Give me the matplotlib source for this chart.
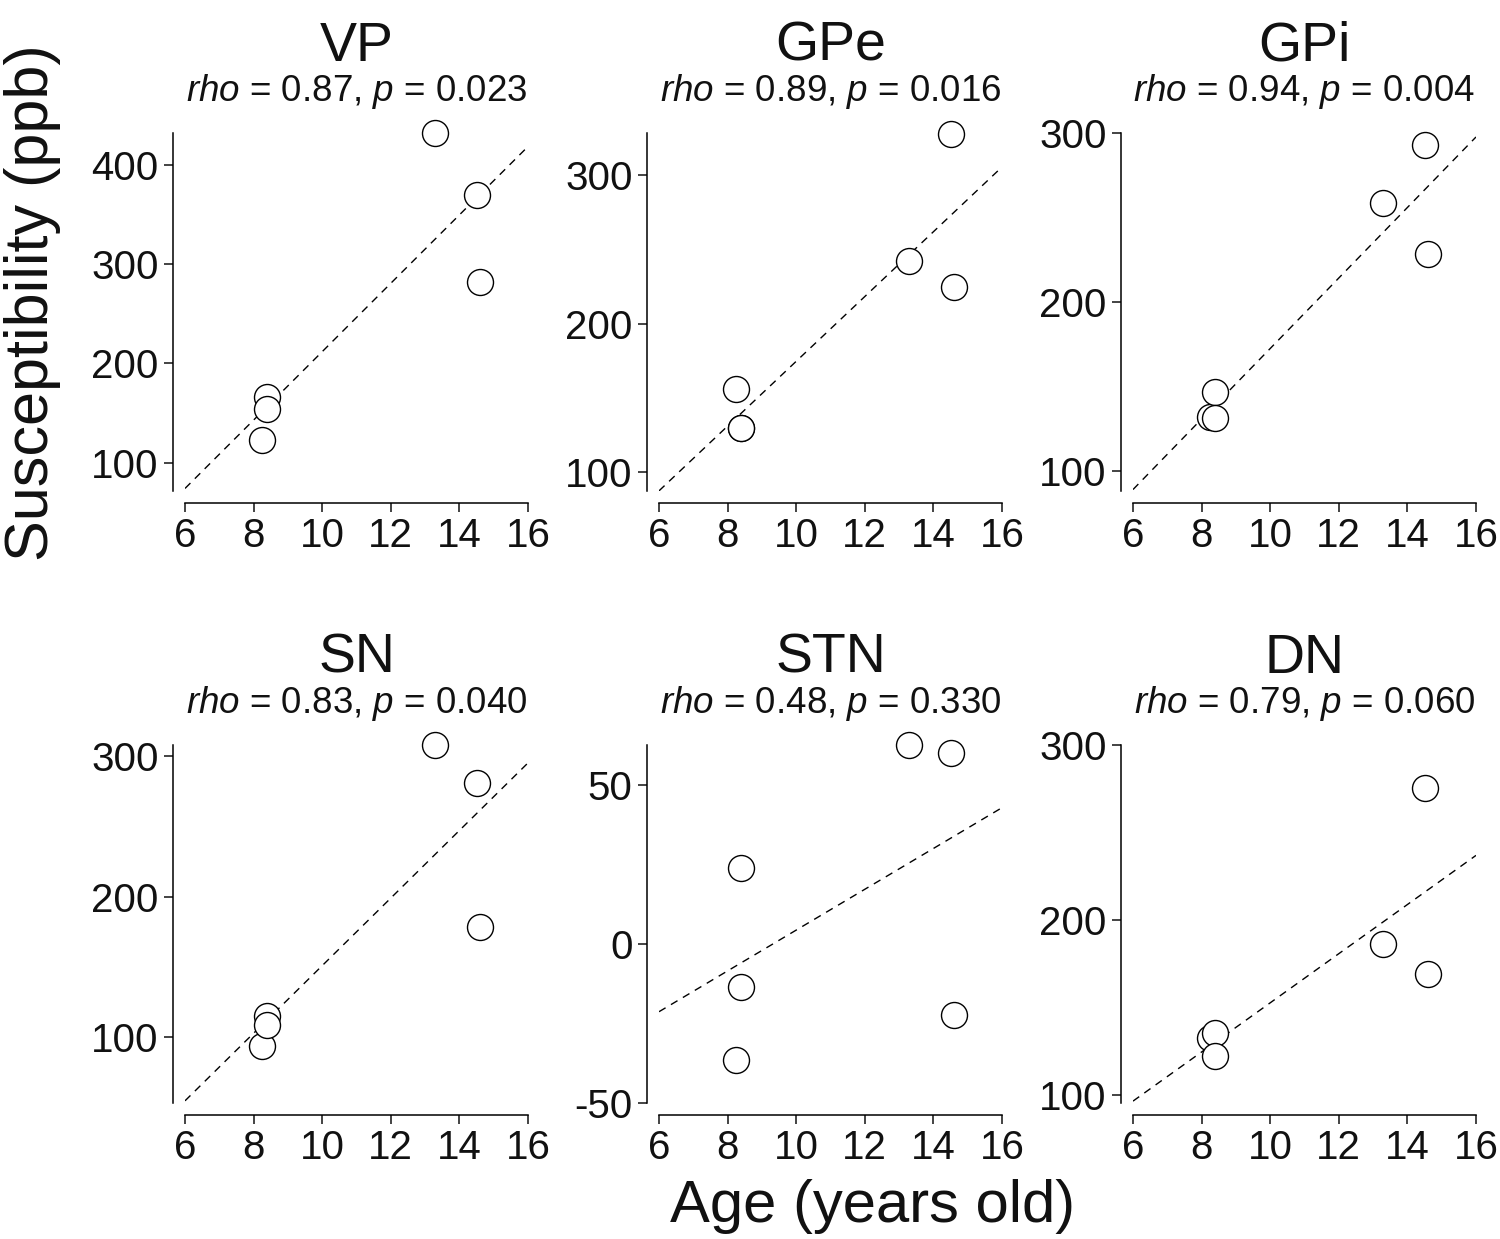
import numpy as np
import matplotlib
matplotlib.use("Agg")
import matplotlib.pyplot as plt
from matplotlib.ticker import MultipleLocator

plt.rcParams['font.family'] = ['Liberation Sans', 'DejaVu Sans']
plt.rcParams['mathtext.fontset'] = 'custom'
plt.rcParams['mathtext.rm'] = 'Liberation Sans'
plt.rcParams['mathtext.it'] = 'Liberation Sans:italic'
plt.rcParams['axes.unicode_minus'] = False

# ages of the six subjects (years)
ages = [8.25, 8.4, 8.4, 13.3, 14.5, 14.6]

regions = ["VP", "GPe", "GPi", "SN", "STN", "DN"]
rho = ["0.87", "0.89", "0.94", "0.83", "0.48", "0.79"]
pval = ["0.023", "0.016", "0.004", "0.040", "0.330", "0.060"]

# susceptibility (ppb) per region, same subject order as ages
vp = [123, 166, 154, 432, 370, 282]
gpe = [156, 129.5, 129.5, 242, 328, 225]
gpi = [132, 146.5, 131.3, 258.7, 292.7, 228.6]
sn = [94, 115.3, 108.7, 307.6, 280.4, 178.6]
stn = [-36.6, 23.9, -13.4, 62.6, 60, -22.4]
dn = [132.4, 135.6, 122.3, 186.3, 275.2, 169.1]
values = [vp, gpe, gpi, sn, stn, dn]

ylims = [(71.4, 432), (87, 328.6), (88, 300), (53.5, 307.6), (-50, 62.6), (95.5, 300)]
ysteps = [100, 100, 100, 100, 50, 100]

fig = plt.figure(figsize=(15, 12.39), dpi=100)

lefts = [185, 659, 1133]
tops = [133, 745]
W, H = 343, 358

for i, name in enumerate(regions):
    r, c = divmod(i, 3)
    l = lefts[c] / 1500
    b = 1 - (tops[r] + H) / 1239
    ax = fig.add_axes([l, b, W / 1500, H / 1239])

    y = np.array(values[i])
    x = np.array(ages)
    slope, icpt = np.polyfit(x, y, 1)
    xx = np.array([6, 16])
    ax.plot(xx, slope * xx + icpt, color='black', lw=1.0, ls=(0, (5.5, 4.5)), zorder=1)
    ax.scatter(x, y, s=350, facecolor='white', edgecolor='black', linewidth=1.0, zorder=2, clip_on=False)

    ax.set_xlim(6, 16)
    ax.set_ylim(*ylims[i])
    ax.xaxis.set_major_locator(MultipleLocator(2))
    ax.yaxis.set_major_locator(MultipleLocator(ysteps[i]))

    for s in ['top', 'right']:
        ax.spines[s].set_visible(False)
    for s in ['left', 'bottom']:
        ax.spines[s].set_position(('outward', 8.5))
        ax.spines[s].set_linewidth(1.1)
    ax.tick_params(labelsize=29, length=6.5, width=1.1, pad=4, colors='#111111')

    ax.annotate(name, xy=(0.5, 1), xycoords='axes fraction', xytext=(0, 52),
                textcoords='offset points', ha='center', va='baseline', fontsize=40, color='#111111')
    ax.annotate(r'$\mathit{rho}$ = %s, $\mathit{p}$ = %s' % (rho[i], pval[i]),
                xy=(0.5, 1), xycoords='axes fraction', xytext=(0, 23),
                textcoords='offset points', ha='center', va='baseline', fontsize=26.5, color='#111111')

fig.text(0.022, 1 - 303 / 1239, 'Susceptibility (ppb)', rotation=90, ha='center', va='center',
         fontsize=44, color='#111111')
fig.text(873 / 1500, 1 - 1222 / 1239, 'Age (years old)', ha='center', va='baseline',
         fontsize=43, color='#111111')

fig.savefig('out.png', dpi=100, facecolor='white')
